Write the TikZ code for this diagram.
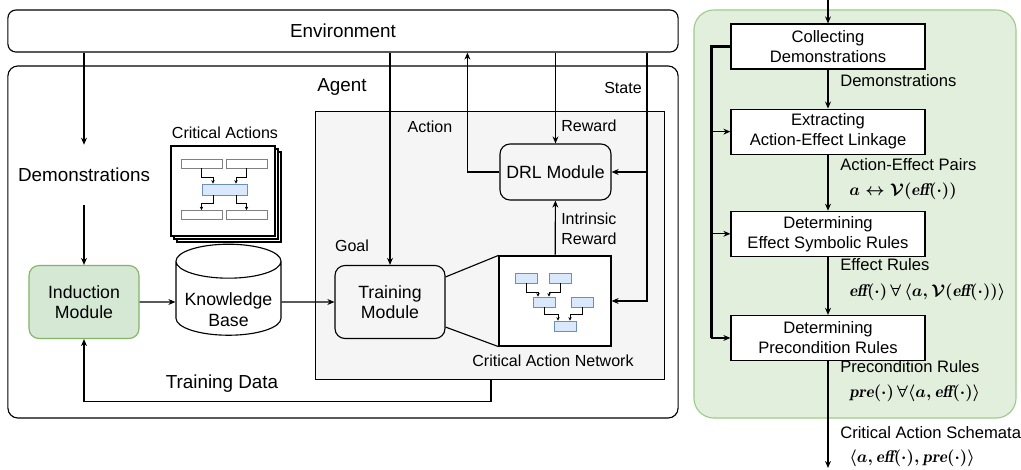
\documentclass[tikz,border=0pt]{standalone}
\usepackage[no-math]{fontspec}
\setmainfont{Liberation Sans}
\usepackage{tikz}
\usetikzlibrary{shapes.geometric,arrows.meta,positioning,calc}

\definecolor{indfill}{HTML}{D5E8D4}
\definecolor{indline}{HTML}{82B366}
\definecolor{panelfill}{HTML}{E3EFDD}
\definecolor{panelline}{HTML}{9FCB8A}
\definecolor{netfill}{HTML}{DAE8FC}
\definecolor{netline}{HTML}{6C8EBF}
\definecolor{agentfill}{HTML}{F5F5F5}

\newcommand{\mitb}[1]{\mbox{\fontfamily{lmr}\bfseries\itshape #1}}

\tikzstyle{arrow} = [-{Stealth[length=5pt,width=4.2pt]}, thick]
\tikzstyle{tinyarrow} = [-{Stealth[length=2.6pt,width=2.4pt]}, semithick]
\tikzstyle{module} = [draw, thick, rounded corners=0.25cm, align=center, minimum width=2.75cm, minimum height=1.825cm, font=\fontsize{12.6}{14.2}\selectfont]
\tikzstyle{stepbox} = [draw, thick, fill=white, align=center, minimum width=4.85cm, minimum height=1.125cm, font=\fontsize{11.8}{14.2}\selectfont]
\tikzstyle{lbl} = [font=\fontsize{11.4}{14.2}\selectfont, inner sep=0pt]
\tikzstyle{bigtext} = [font=\fontsize{13.4}{16}\selectfont]
\tikzstyle{steplbl} = [font=\fontsize{11.8}{14.2}\selectfont, inner sep=0pt, anchor=west]
\tikzstyle{mathlbl} = [font=\fontsize{12}{14}\selectfont\boldmath, inner sep=0pt, anchor=west]
\tikzstyle{minibox} = [draw=gray, fill=white, minimum width=1.025cm, minimum height=0.225cm, inner sep=0pt]
\tikzstyle{netbox} = [draw=netline, fill=netfill, minimum width=0.55cm, minimum height=0.25cm, inner sep=0pt]

\begin{document}
\begin{tikzpicture}[x=0.025cm, y=-0.025cm]
    \useasboundingbox (0,0) rectangle (1021,469);

    % environment and agent frame
    \node[draw, thick, rounded corners=0.2cm, minimum width=16.75cm, minimum height=1.05cm, bigtext] (env) at (343,31) {Environment};
    \node[draw, thick, rounded corners=0.25cm, minimum width=16.75cm, minimum height=8.8cm] (agent) at (343,242) {};
    \node[bigtext] (agentlbl) at (342,87) {Agent};
    \node[draw, fill=agentfill, minimum width=8.725cm, minimum height=6.7cm] (inner) at (489.5,245) {};

    % modules
    \node[module, fill=indfill, draw=indline] (ind) at (84,302) {Induction\\Module};
    \node[draw, thick, cylinder, shape border rotate=90, aspect=0.35, minimum width=2.625cm, minimum height=2.275cm, align=center, font=\fontsize{12.6}{15}\selectfont] (kb) at (228.5,302) {\phantom{Knowledge}\\\phantom{Base}};
    \node[align=center, font=\fontsize{12.6}{15}\selectfont] (kbtext) at ($(kb.center)+(0,8)$) {Knowledge\\Base};
    \node[module] (tm) at (390,302) {Training\\Module};
    \node[module, minimum width=2.775cm, minimum height=1.4cm] (drl) at (555.5,172) {DRL Module};
    \node[draw, thick, fill=white, minimum width=2.8cm, minimum height=2.25cm] (can) at (555,301) {};
    \node[bigtext, minimum height=1.5cm] (demo) at (84,175) {Demonstrations};

    % critical actions stack
    \node[lbl] (calbl) at (225,133) {Critical Actions};
    \node[draw, thick, fill=white, minimum width=2.6cm, minimum height=2.25cm] (page3) at (229,197) {};
    \node[draw, thick, fill=white, minimum width=2.6cm, minimum height=2.25cm] (page2) at (226,194) {};
    \node[draw, thick, fill=white, minimum width=2.6cm, minimum height=2.25cm] (page1) at (223,191) {};
    \node[minibox] (ca1) at (201.5,163.5) {};
    \node[minibox] (ca2) at (246.5,163.5) {};
    \node[minibox, draw=netline, fill=netfill, minimum width=1.125cm, minimum height=0.275cm] (cam) at (224.5,189.5) {};
    \node[minibox] (ca3) at (201.5,215) {};
    \node[minibox] (ca4) at (246.5,215) {};
    \draw[tinyarrow] (ca1.south) -- ++(0,9) -| ($(cam.north)+(-11.5,0)$);
    \draw[tinyarrow] (ca2.south) -- ++(0,9) -| ($(cam.north)+(11.5,0)$);
    \draw[tinyarrow] ($(cam.south)+(-11.5,0)$) -- ++(0,8) -| (ca3.north);
    \draw[tinyarrow] ($(cam.south)+(11.5,0)$) -- ++(0,8) -| (ca4.north);

    % critical action network
    \node[netbox] (n1) at (526.5,278) {};
    \node[netbox] (n2) at (560,278) {};
    \node[netbox] (n3) at (544,302) {};
    \node[netbox] (n4) at (582.5,302) {};
    \node[netbox] (n5) at (565,326) {};
    \draw[tinyarrow] (n1.south) -- ++(0,9) -| ($(n3.north)+(-6,0)$);
    \draw[tinyarrow] (n2.south) -- ++(0,9) -| ($(n3.north)+(5,0)$);
    \draw[tinyarrow] (n3.south) -- ++(0,7) -| ($(n5.north)+(-7,0)$);
    \draw[tinyarrow] (n4.south) -- ++(0,7) -| ($(n5.north)+(5,0)$);

    % connections
    \draw[arrow] (env.south -| demo) -- (demo);
    \draw[arrow] (demo) -- (ind);
    \draw[arrow] (ind) -- (kb);
    \draw[arrow] (kb) -- (tm);
    \draw[arrow] (env.south -| tm) -- (tm);
    \draw[arrow] (drl.west) -- ++(-32,0) coordinate (actturn) -- (actturn |- env.south);
    \draw[arrow] (env.south -| drl) -- (drl);
    \draw[arrow] (env.south -| 647,0) |- (drl.east);
    \draw[arrow] (env.south -| 647,0) |- (can.east);
    \draw[arrow] (can) -- (drl);
    \draw[thick] ($(tm.north east)+(0,12)$) -- (can.north west);
    \draw[thick] ($(tm.south east)+(0,-12)$) -- (can.south west);
    \draw[arrow] (inner.south -| 491,0) -- ++(0,22) -| (ind.south);

    % labels
    \node[lbl] (actlbl) at (430,127) {Action};
    \node[lbl, anchor=west] (rewlbl) at (561,126) {Reward};
    \node[lbl] (statelbl) at (623,88) {State};
    \node[lbl] (goallbl) at (352,246) {Goal};
    \node[lbl, anchor=west, align=left] (intlbl) at (561,229) {Intrinsic\\Reward};
    \node[lbl] (canlbl) at (553,361) {Critical Action Network};
    \node[bigtext] (tdlbl) at (222,384) {Training Data};

    % induction procedure
    \node[draw=panelline, thick, fill=panelfill, rounded corners=0.5cm, minimum width=8.05cm, minimum height=10.2cm] (panel) at (855,214) {};
    \node[stepbox] (collect) at (828,46.5) {Collecting\\Demonstrations};
    \node[stepbox, below=0.975cm of collect] (extract) {Extracting\\Action-Effect Linkage};
    \node[stepbox, below=1.4cm of extract] (effect) {Determining\\Effect Symbolic Rules};
    \node[stepbox, below=1.45cm of effect] (precond) {Determining\\Precondition Rules};
    \coordinate (src) at (828,0);
    \coordinate (sink) at (828,468);
    \draw[arrow] (src) -- (collect);
    \draw[arrow] (collect) -- (extract);
    \draw[arrow] (extract) -- (effect);
    \draw[arrow] (effect) -- (precond);
    \draw[arrow] (precond) -- (sink);
    \draw[line width=1.6pt] (collect.west) -- ++(-19,0) coordinate (loop) -- (loop |- precond.west);
    \draw[arrow] (loop |- extract.west) -- (extract.west);
    \draw[arrow] (loop |- effect.west) -- (effect.west);
    \draw[arrow] (loop |- precond.west) -- (precond.west);

    \node[steplbl] (l1) at (840,81) {Demonstrations};
    \node[steplbl] (l2) at (840,165) {Action-Effect Pairs};
    \node[mathlbl] (m2) at (849,191) {$a \leftrightarrow \mathcal{V}(\mitb{eff}(\cdot))$};
    \node[steplbl] (l3) at (840,265) {Effect Rules};
    \node[mathlbl] (m3) at (849,292) {$\mitb{eff}(\cdot)\,\forall\,\langle a, \mathcal{V}(\mitb{eff}(\cdot))\rangle$};
    \node[steplbl] (l4) at (840,367) {Precondition Rules};
    \node[mathlbl] (m4) at (849,393) {$\mitb{pre}(\cdot)\,\forall\langle a, \mitb{eff}(\cdot)\rangle$};
    \node[steplbl] (l5) at (840,433) {Critical Action Schemata};
    \node[mathlbl] (m5) at (849,458) {$\langle a, \mitb{eff}(\cdot), \mitb{pre}(\cdot)\rangle$};
\end{tikzpicture}
\end{document}
